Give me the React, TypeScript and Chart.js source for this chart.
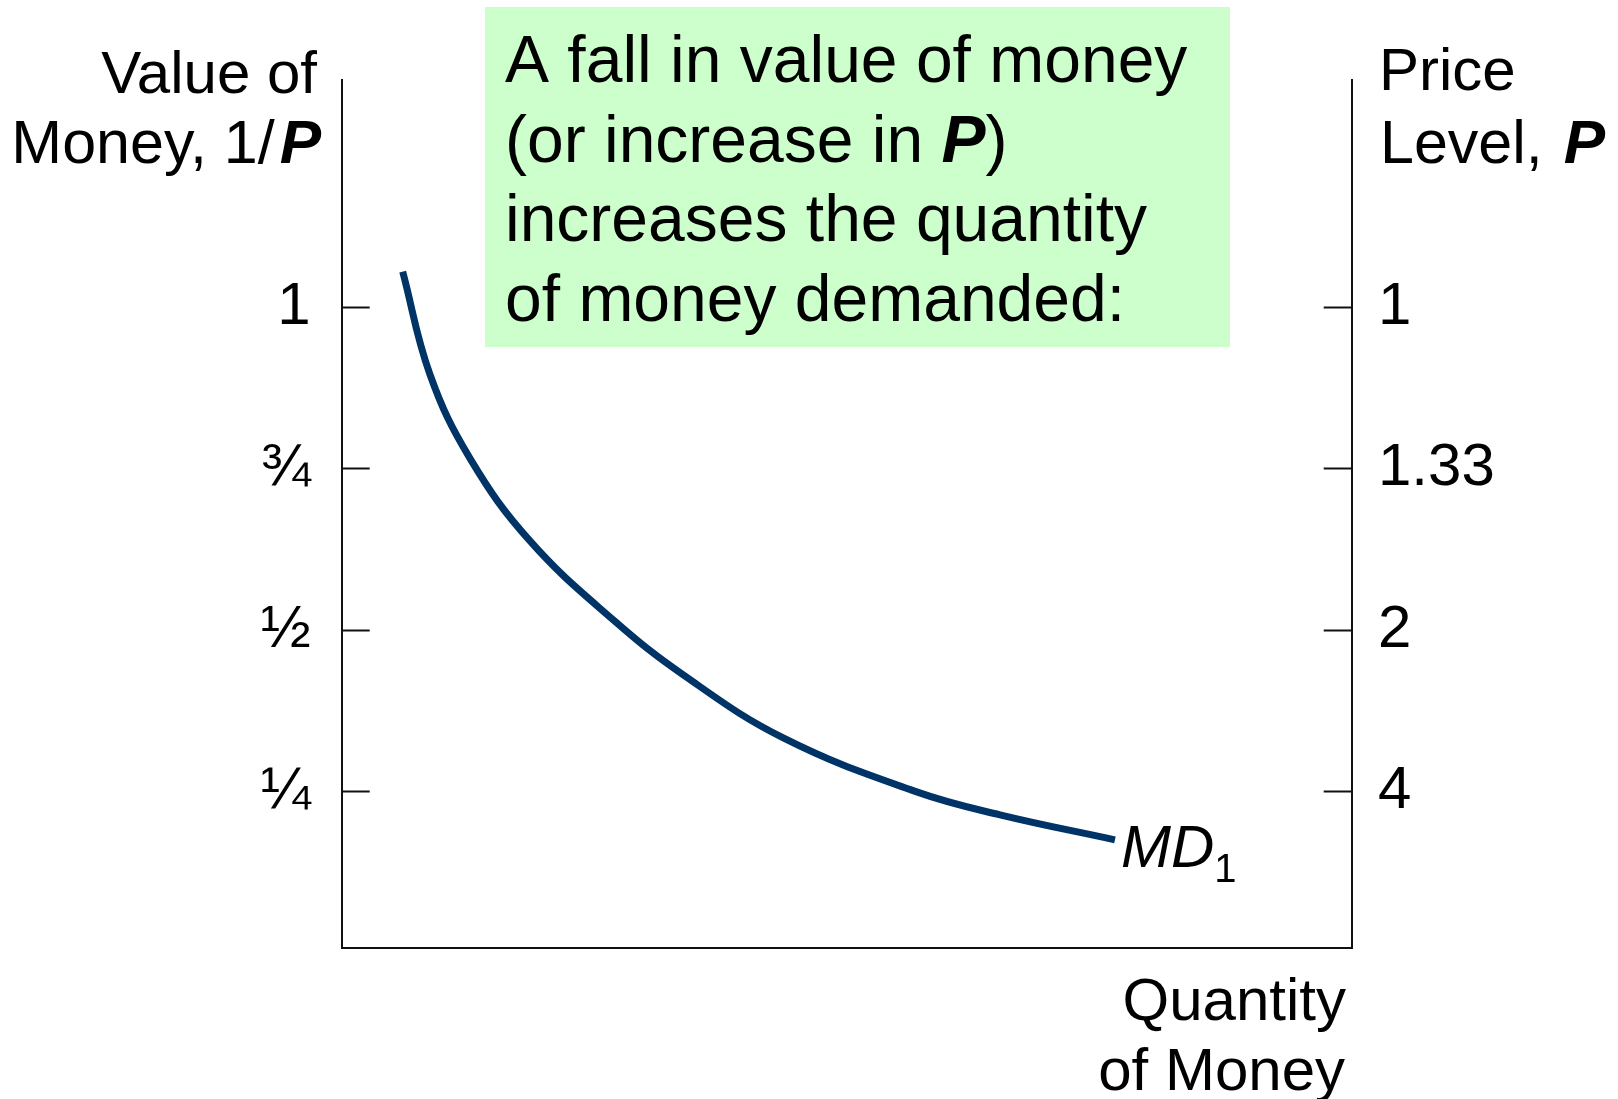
import React, { useEffect, useRef } from "react";
import { Chart, registerables } from "chart.js";

Chart.register(...registerables);

// ---- Data ----
const quantityOfMoney = [6.04, 8.74, 12.7, 18.64, 26.89, 33.82, 43.72, 56.93, 65.18, 76.56];
const valueOfMoney = [1.0551, 0.896, 0.7661, 0.6384, 0.5162, 0.4311, 0.3336, 0.25, 0.2145, 0.1758];
const tickValues = [0.25, 0.5, 0.75, 1];
const leftTickLabels = ["¼", "½", "¾", "1"];
const rightTickLabels = ["4", "2", "1.33", "1"];
const seriesLabel = "MD1";
const boxLines: { text: string; bold?: boolean }[][] = [
  [{ text: "A fall in value of money" }],
  [{ text: "(or increase in " }, { text: "P", bold: true }, { text: ")" }],
  [{ text: "increases the quantity" }],
  [{ text: "of money demanded:" }],
];

const FONT = "'Liberation Sans', Arial, Helvetica, sans-serif";

type Run = { text: string; bold?: boolean; italic?: boolean; size: number; gap?: number };

function fontOf(r: Run) {
  return `${r.italic || r.bold ? "italic " : ""}${r.bold ? "bold " : ""}${r.size}px ${FONT}`;
}

function drawRuns(ctx: CanvasRenderingContext2D, runs: Run[], x: number, y: number, align: "left" | "right") {
  let total = 0;
  for (const r of runs) {
    ctx.font = fontOf(r);
    total += ctx.measureText(r.text).width + (r.gap || 0);
  }
  let cx = align === "left" ? x : x - total;
  ctx.textAlign = "left";
  ctx.textBaseline = "alphabetic";
  for (const r of runs) {
    ctx.font = fontOf(r);
    cx += r.gap || 0;
    ctx.fillText(r.text, cx, y);
    cx += ctx.measureText(r.text).width;
  }
}

const annotationPlugin = {
  id: "annotations",
  beforeDraw(chart: any) {
    const ctx = chart.ctx as CanvasRenderingContext2D;
    ctx.save();
    ctx.fillStyle = "#ffffff";
    ctx.fillRect(0, 0, chart.width, chart.height);
    ctx.fillStyle = "#ccffcc";
    ctx.fillRect(485, 7, 745, 340);
    ctx.restore();
  },
  afterDraw(chart: any) {
    const ctx = chart.ctx as CanvasRenderingContext2D;
    ctx.save();
    ctx.fillStyle = "#000000";
    // green box text
    const baselines = [82, 161.5, 241, 321];
    boxLines.forEach((line, i) => {
      drawRuns(
        ctx,
        line.map((s) => ({ text: s.text, bold: s.bold, size: 66 })),
        505,
        baselines[i],
        "left"
      );
    });
    // left axis title
    drawRuns(ctx, [{ text: "Value of", size: 60 }], 317, 93, "right");
    drawRuns(ctx, [{ text: "Money, 1/", size: 61 }, { text: "P", bold: true, size: 62, gap: 5 }], 321, 163, "right");
    // right axis title
    drawRuns(ctx, [{ text: "Price", size: 60 }], 1379, 90, "left");
    drawRuns(ctx, [{ text: "Level, ", size: 61 }, { text: "P", bold: true, size: 62, gap: 4 }], 1380, 163, "left");
    // x axis title
    drawRuns(ctx, [{ text: "Quantity", size: 60 }], 1346, 1020, "right");
    drawRuns(ctx, [{ text: "of Money", size: 60 }], 1345, 1090, "right");
    // series label MD1 at end of curve
    const meta = chart.getDatasetMeta(0);
    const last = meta.data[meta.data.length - 1];
    if (last) {
      ctx.font = `italic 60px ${FONT}`;
      ctx.textAlign = "left";
      ctx.textBaseline = "alphabetic";
      const mx = last.x + 6;
      const my = last.y + 27;
      ctx.fillText("MD", mx, my);
      const w = ctx.measureText("MD").width;
      ctx.font = `40px ${FONT}`;
      ctx.fillText(seriesLabel.slice(2), mx + w, my + 15);
    }
    ctx.restore();
  },
};

function noPad(scale: any) {
  scale.paddingTop = 0;
  scale.paddingBottom = 0;
  scale.paddingLeft = 0;
  scale.paddingRight = 0;
}

export default function App() {
  const canvasRef = useRef<HTMLCanvasElement | null>(null);

  useEffect(() => {
    const canvas = canvasRef.current;
    if (!canvas) return;
    const yMin = 0.008;
    const yMax = 1.3525;
    const setTicks = (scale: any) => {
      scale.ticks = tickValues.map((v) => ({ value: v }));
    };
    const gridCommon = {
      display: true,
      drawOnChartArea: false,
      drawTicks: true,
      tickLength: -28,
      tickWidth: 2,
      tickColor: "#111111",
    };
    const chart = new Chart(canvas, {
      type: "line",
      data: {
        datasets: [
          {
            label: seriesLabel,
            data: quantityOfMoney.map((x, i) => ({ x, y: valueOfMoney[i] })),
            borderColor: "#003366",
            borderWidth: 7,
            pointRadius: 0,
            fill: false,
            tension: 0.4,
            borderCapStyle: "butt",
            borderJoinStyle: "round",
            yAxisID: "y",
          },
        ],
      },
      options: {
        animation: false,
        responsive: false,
        maintainAspectRatio: false,
        devicePixelRatio: 1,
        layout: { padding: { top: 79.5, left: 0, right: 0, bottom: 0 } },
        plugins: {
          legend: { display: false },
          tooltip: { enabled: false },
          title: { display: false },
        },
        scales: {
          x: {
            type: "linear",
            position: "bottom",
            min: 0,
            max: 100,
            grid: { display: false },
            ticks: { display: false },
            border: { display: true, color: "#111111", width: 2 },
            afterFit: (scale: any) => {
              scale.height = 1099 - 948.3;
              noPad(scale);
            },
          },
          y: {
            type: "linear",
            position: "left",
            min: yMin,
            max: yMax,
            afterBuildTicks: setTicks,
            grid: gridCommon,
            border: { display: true, color: "#111111", width: 2 },
            ticks: {
              padding: 59,
              color: "#000",
              font: { family: FONT, size: 60 },
              callback: (v: any) => {
                const i = tickValues.indexOf(Number(v));
                return i >= 0 ? leftTickLabels[i] : "";
              },
            },
            afterFit: (scale: any) => {
              scale.width = 341.7;
              noPad(scale);
            },
          },
          y2: {
            type: "linear",
            position: "right",
            min: yMin,
            max: yMax,
            afterBuildTicks: setTicks,
            grid: gridCommon,
            border: { display: true, color: "#111111", width: 2 },
            ticks: {
              padding: 54.3,
              color: "#000",
              font: { family: FONT, size: 60 },
              callback: (v: any) => {
                const i = tickValues.indexOf(Number(v));
                return i >= 0 ? rightTickLabels[i] : "";
              },
            },
            afterFit: (scale: any) => {
              scale.width = 1618 - 1351.7;
              noPad(scale);
            },
          },
        },
      } as any,
      plugins: [annotationPlugin],
    });
    return () => chart.destroy();
  }, []);

  return (
    <div style={{ position: "fixed", left: 0, top: 0, width: 1618, height: 1099, background: "#fff" }}>
      <canvas ref={canvasRef} width={1618} height={1099} style={{ width: 1618, height: 1099, display: "block" }} />
    </div>
  );
}
